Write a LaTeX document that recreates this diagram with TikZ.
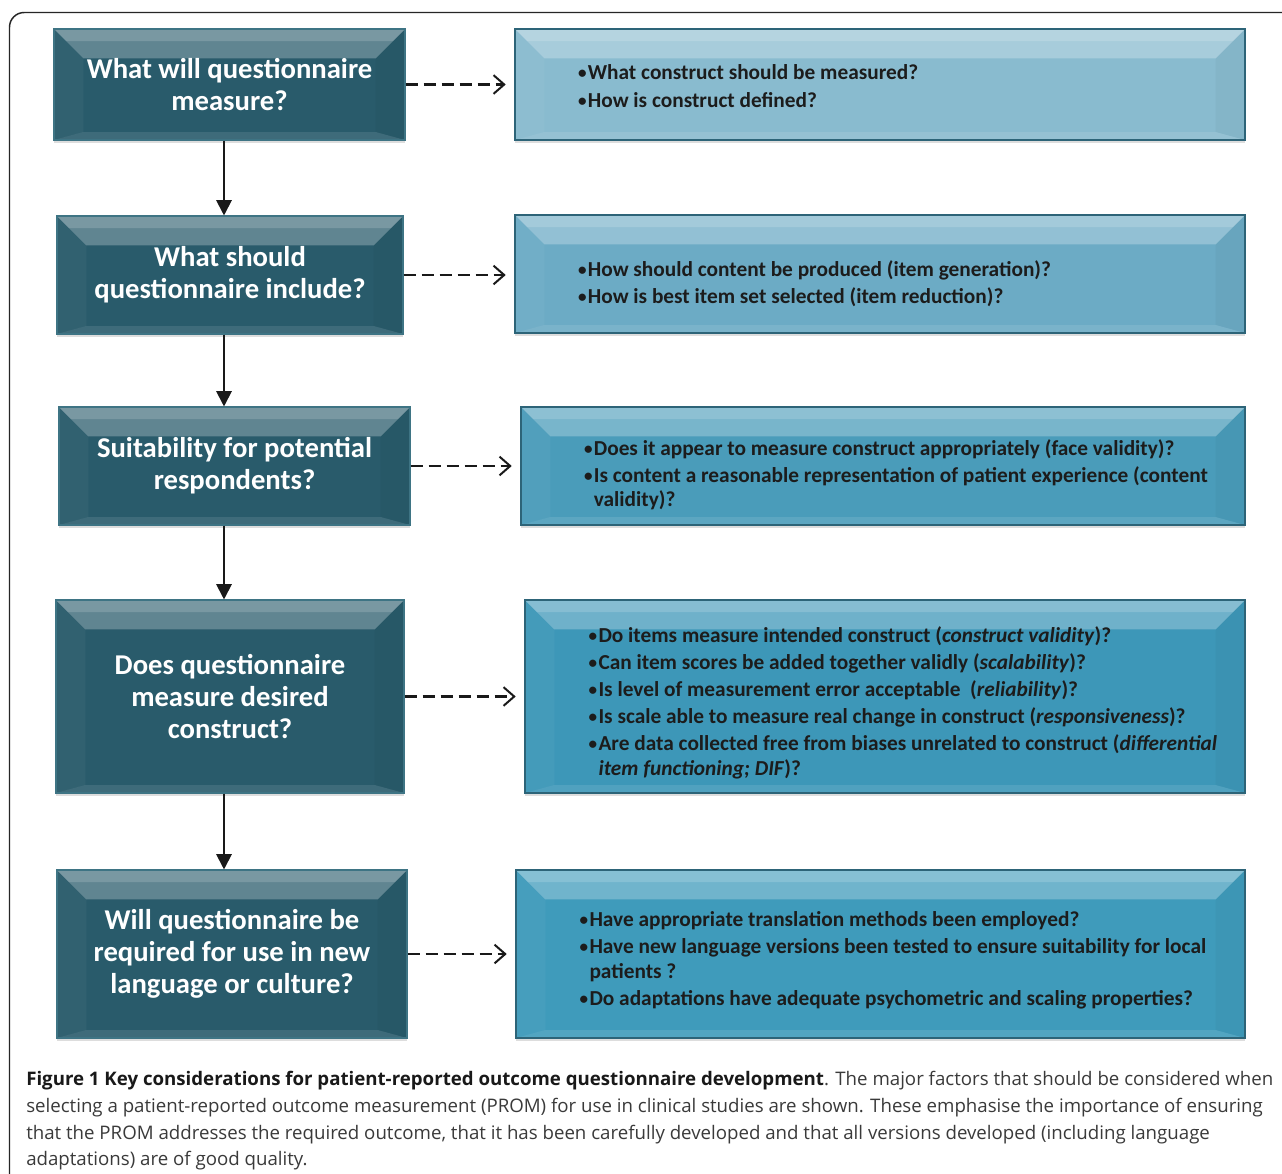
\documentclass[tikz,border=0pt]{standalone}
\usepackage{fontspec}
\setmainfont{Carlito}
\newfontfamily\capfont{Open Sans}
\usetikzlibrary{arrows.meta,fit,shadows}

\definecolor{qdark}{HTML}{295B6B}
\definecolor{qedge}{HTML}{3E7484}
\definecolor{ans1}{HTML}{89BBCF}
\definecolor{ans2}{HTML}{6CABC5}
\definecolor{ans3}{HTML}{4A9CBA}
\definecolor{ans4}{HTML}{3D97B8}
\definecolor{ans5}{HTML}{3F9BBB}
\definecolor{aedge}{HTML}{2D6478}
\definecolor{inktext}{HTML}{1C1C1C}
\definecolor{captext}{HTML}{3A3A3A}

\tikzset{
  % bevelled face: light top band, soft sides, slightly lighter bottom lip
  bevel/.style={path picture={
    \fill[white,opacity=0.26]
      (path picture bounding box.north west) -- (path picture bounding box.north east)
      -- ([xshift=-22pt,yshift=-22pt]path picture bounding box.north east)
      -- ([xshift=22pt,yshift=-22pt]path picture bounding box.north west) -- cycle;
    \fill[white,opacity=0.16]
      (path picture bounding box.north west) -- (path picture bounding box.north east)
      -- ([xshift=-9pt,yshift=-9pt]path picture bounding box.north east)
      -- ([xshift=9pt,yshift=-9pt]path picture bounding box.north west) -- cycle;
    \fill[white,opacity=0.04]
      (path picture bounding box.north west)
      -- ([xshift=22pt,yshift=-22pt]path picture bounding box.north west)
      -- ([xshift=22pt,yshift=6pt]path picture bounding box.south west)
      -- (path picture bounding box.south west) -- cycle;
    \fill[black,opacity=0.03]
      (path picture bounding box.north east)
      -- ([xshift=-22pt,yshift=-22pt]path picture bounding box.north east)
      -- ([xshift=-22pt,yshift=6pt]path picture bounding box.south east)
      -- (path picture bounding box.south east) -- cycle;
    \fill[white,opacity=0.10]
      (path picture bounding box.south west)
      -- ([xshift=22pt,yshift=6pt]path picture bounding box.south west)
      -- ([xshift=-22pt,yshift=6pt]path picture bounding box.south east)
      -- (path picture bounding box.south east) -- cycle;
  }},
  qbox/.style 2 args={rectangle, minimum width=#1*0.75pt, minimum height=#2*0.75pt,
    inner sep=0pt, fill=qdark, draw=qedge, line width=0.8pt, bevel,
    drop shadow={shadow xshift=0pt, shadow yshift=-2.5pt, opacity=0.22, fill=black!60},
    text=white, align=center, font=\bfseries\fontsize{21.5}{24}\selectfont},
  abox/.style 2 args={fit={#1}, inner sep=0pt, fill=#2, draw=aedge, line width=0.9pt, bevel,
    drop shadow={shadow xshift=0pt, shadow yshift=-2.5pt, opacity=0.22, fill=black!60}},
  itemtext/.style={anchor=west, inner sep=0pt, align=left, text=inktext,
    font=\bfseries\fontsize{16}{18.4}\selectfont},
  flow/.style={line width=1.5pt, draw=black!90, -{Triangle[length=11.5pt,width=11.5pt]}},
  hint/.style={line width=1.9pt, draw=black!90, dash pattern=on 9pt off 4.5pt,
    -{Straight Barb[length=8pt,width=14pt,line width=1.5pt]}, shorten >=6.5pt},
  capline/.style={anchor=base west, inner sep=0pt, text=captext,
    font=\capfont\fontsize{14}{20}\selectfont},
}

\newcommand{\itm}{\raisebox{0.1ex}{\scalebox{0.8}{\textbullet}}\hspace{1pt}}
\newcommand{\cont}{\phantom{\scalebox{0.8}{\textbullet}}\hspace{1pt}}

\begin{document}
\begin{tikzpicture}[x=0.75pt,y=-0.75pt]
\useasboundingbox (0,0) rectangle (1282,1174);
\fill[white] (0,0) rectangle (1282,1174);

% outer frame, open towards the right and bottom edges
\begin{scope}
  \clip (0,0) rectangle (1282,1174);
  \draw[line width=1.1pt, draw=black!85, rounded corners=11pt] (9.5,12.5) rectangle (1320,1220);
\end{scope}

% question boxes
\node[qbox={351}{111}] (q1) at (229.5,84.5) {What will questionnaire\\measure?};
\node[qbox={346}{118}] (q2) at (230,275) {What should\\questionnaire include?};
\node[qbox={351}{118}] (q3) at (234.5,466) {Suitability for potential\\respondents?};
\node[qbox={348}{193}] (q4) at (230,696.5) {Does questionnaire\\measure desired\\construct?};
\node[qbox={350}{168}] (q5) at (232,954) {Will questionnaire be\\required for use in new\\language or culture?};

% answer boxes
\node[abox={(515,29) (1245,140)}{ans1}] (r1) {};
\node[abox={(515,215) (1245,333)}{ans2}] (r2) {};
\node[abox={(521,407) (1245,525)}{ans3}] (r3) {};
\node[abox={(525,600) (1245,793)}{ans4}] (r4) {};
\node[abox={(516,870) (1245,1038)}{ans5}] (r5) {};

\node[itemtext] (t1) at ([xshift=47.5pt,yshift=-1.2pt]r1.west)
  {\itm What construct should be measured?\\[1.9pt]
   \itm How is construct defined?};
\node[itemtext] (t2) at ([xshift=47.5pt,yshift=-7.6pt]r2.west)
  {\itm How should content be produced (item generation)?\\[1.9pt]
   \itm How is best item set selected (item reduction)?};
\node[itemtext] (t3) at ([xshift=47.5pt,yshift=-6.6pt]r3.west)
  {\itm Does it appear to measure construct appropriately (face validity)?\\[1.9pt]
   \itm Is content a reasonable representation of patient experience (content\\
   \cont validity)?};
\node[itemtext] (t4) at ([xshift=48pt,yshift=-4.5pt]r4.west)
  {\itm Do items measure intended construct (\textit{construct validity})?\\[1.9pt]
   \itm Can item scores be added together validly (\textit{scalability})?\\[1.9pt]
   \itm Is level of measurement error acceptable\ \ (\textit{reliability})?\\[1.9pt]
   \itm Is scale able to measure real change in construct (\textit{responsiveness})?\\[1.9pt]
   \itm Are data collected free from biases unrelated to construct (\textit{differential}\\
   \cont\textit{item functioning; DIF})?};
\node[itemtext] (t5) at ([xshift=48pt,yshift=-4.9pt]r5.west)
  {\itm Have appropriate translation methods been employed?\\[1.9pt]
   \itm Have new language versions been tested to ensure suitability for local\\
   \cont patients ?\\[1.9pt]
   \itm Do adaptations have adequate psychometric and scaling properties?};

% main sequence
\coordinate (ax) at (224,0);
\draw[flow] (q1.south -| ax) -- (q2.north -| ax);
\draw[flow] (q2.south -| ax) -- (q3.north -| ax);
\draw[flow] (q3.south -| ax) -- (q4.north -| ax);
\draw[flow] (q4.south -| ax) -- (q5.north -| ax);

% links to the detail boxes
\draw[hint] (q1.east) -- (q1.east -| r1.west);
\draw[hint] (q2.east) -- (q2.east -| r2.west);
\draw[hint] (q3.east) -- (q3.east -| r3.west);
\draw[hint] (q4.east) -- (q4.east -| r4.west);
\draw[hint] (q5.east) -- (q5.east -| r5.west);

% caption
\node[capline] (c1) at (26,1085) {{\bfseries\color{black!90}Figure 1 Key considerations for patient-reported outcome questionnaire development}. The major factors that should be considered when};
\node[capline] (c2) at (26,1112) {selecting a patient-reported outcome measurement (PROM) for use in clinical studies are shown. These emphasise the importance of ensuring};
\node[capline] (c3) at (26,1139) {that the PROM addresses the required outcome, that it has been carefully developed and that all versions developed (including language};
\node[capline] (c4) at (26,1165) {adaptations) are of good quality.};
\end{tikzpicture}
\end{document}
